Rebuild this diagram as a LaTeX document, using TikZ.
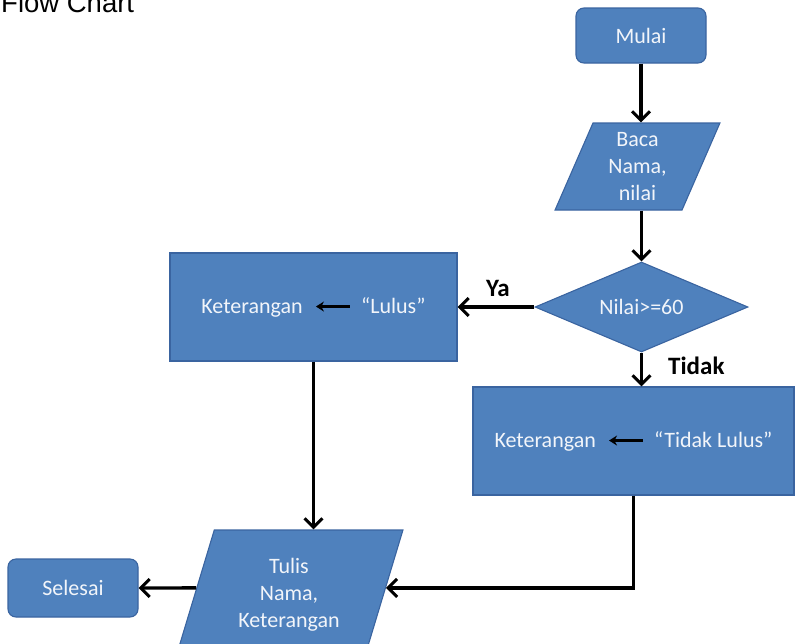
\documentclass[tikz,border=0pt]{standalone}
\usepackage{fontspec}
\setmainfont{Carlito}
\newfontfamily\titlefont{Liberation Sans}
\usetikzlibrary{shapes.geometric,arrows.meta,calc}

\definecolor{shapefill}{HTML}{4F81BD}
\definecolor{shapeline}{HTML}{3A64A0}
\definecolor{shapetext}{HTML}{F2F5FA}

% small black assignment arrow used inside the process boxes
\newcommand{\assignarrow}{\tikz[baseline=-0.62ex]\draw[{Stealth[length=8pt,width=10pt]}-,line width=2.4pt,black](0,0)--(34pt,0);}

\tikzset{
  chartbase/.style={fill=shapefill, draw=shapeline, line width=1.1pt, text=shapetext,
    font=\fontsize{22}{27}\selectfont, align=center, inner sep=0pt},
  terminal/.style={chartbase, rounded corners=8pt},
  procbox/.style={chartbase},
  iobox/.style={chartbase, trapezium, trapezium left angle=70, trapezium right angle=110,
    trapezium stretches=true},
  decision/.style={chartbase, diamond, aspect=2.4},
  flow/.style={line width=3.4pt, black, -{Straight Barb[length=9pt,width=18pt,line width=3pt]}},
  branchlabel/.style={font=\bfseries\fontsize{25}{30}\selectfont, text=black, inner sep=0pt}
}

\begin{document}
\begin{tikzpicture}[x=1pt,y=-1pt]
\useasboundingbox (0,0) rectangle (803,643);
\clip (0,0) rectangle (803,643);

% heading
\node[anchor=base west, inner sep=0pt, font=\titlefont\fontsize{27.5}{30}\selectfont] (title) at (1,12) {Flow Chart};

% shapes
\node[terminal, minimum width=130pt, minimum height=55pt] (mulai) at (641,35.5) {Mulai};
\node[iobox, minimum width=165pt, minimum height=87pt] (baca) at (637.5,166.5) {Baca\\Nama,\\nilai};
\node[decision, minimum width=213pt, minimum height=90pt] (cek) at (641.5,307) {Nilai>=60};
\node[procbox, minimum width=287pt, minimum height=108pt] (lulus) at (313.5,307) {Keterangan\hspace{12pt}\assignarrow\hspace{10pt}“Lulus”};
\node[procbox, minimum width=321pt, minimum height=108pt] (tidak) at (633.5,441) {Keterangan\hspace{12pt}\assignarrow\hspace{10pt}“Tidak Lulus”};
\node[iobox, minimum width=228pt, minimum height=130pt] (tulis) at (289,595) {Tulis\\Nama,\\Keterangan};
\node[terminal, minimum width=130pt, minimum height=58pt] (selesai) at (73,588) {Selesai};

% entry and exit points on the slanted sides of the output shape
\coordinate (tulisin) at ($(tulis.top right corner)!0.446!(tulis.bottom right corner)$);
\coordinate (tulisout) at ($(tulis.top left corner)!0.446!(tulis.bottom left corner)$);

% connectors
\draw[flow] (mulai.south) -- (mulai.south |- baca.north);
\draw[flow] (baca.south -| cek.north) -- (cek.north);
\draw[flow] (cek.west) -- (lulus.east);
\node[branchlabel] (ya) at (498,288) {Ya};
\draw[flow] (cek.south) -- (cek.south |- tidak.north);
\node[branchlabel, anchor=west] (tidaklabel) at (668,366) {Tidak};
\draw[flow] (lulus.south) -- (lulus.south |- tulis.north);
\draw[flow] (tidak.south) |- (tulisin);
\draw[flow] (tulisout) -- (selesai.east);
\end{tikzpicture}
\end{document}
